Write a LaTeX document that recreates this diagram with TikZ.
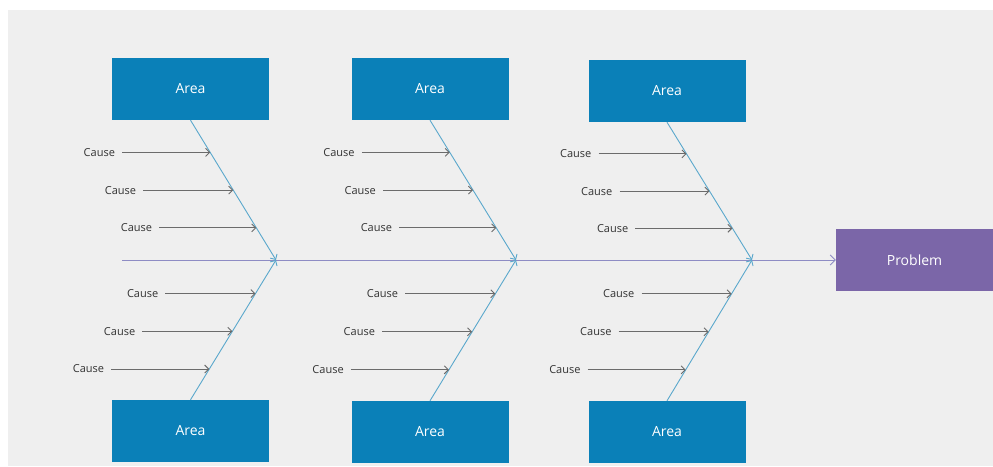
\documentclass[tikz,border=0pt]{standalone}
\usepackage{fontspec}
\setmainfont{Open Sans}
\usetikzlibrary{arrows.meta,calc}
\definecolor{bggray}{HTML}{EFEFEF}
\definecolor{areablue}{HTML}{0A80B8}
\definecolor{probpurple}{HTML}{7B66A8}
\definecolor{bonecol}{HTML}{5AA8CC}
\definecolor{spinecol}{HTML}{8E8CC4}
\definecolor{causecol}{HTML}{6B6B6B}
\tikzset{
	area/.style={fill=areablue, text=white, minimum width=157, minimum height=62,
			inner sep=0pt, font=\fontsize{14}{16}\selectfont},
	problem/.style={area, fill=probpurple},
	cause/.style={text=black!80, inner xsep=7pt, inner ysep=2pt, anchor=east,
			font=\fontsize{11}{13}\selectfont},
	bone/.style={draw=bonecol, line width=0.9pt, -{Straight Barb[length=4pt,width=8pt]}},
	spine/.style={draw=spinecol, line width=0.9pt, -{Straight Barb[length=5pt,width=10pt]}},
	causearrow/.style={draw=causecol, line width=0.9pt, -{Straight Barb[length=4pt,width=8pt]}}
}

\begin{document}
\begin{tikzpicture}[x=1pt,y=-1pt]
	\fill[bggray] (8,10) rectangle (993,466);
	\useasboundingbox (0,0) rectangle (993,466);

	% area boxes
	\node[area] (top1) at (190.5,89) {Area};
	\node[area] (top2) at (430,89) {Area};
	\node[area] (top3) at (667,91) {Area};
	\node[area] (bot1) at (190.5,431) {Area};
	\node[area] (bot2) at (430,432) {Area};
	\node[area] (bot3) at (667,432) {Area};
	\node[problem] (prob) at (914.5,260) {Problem};

	% spine and bones
	\coordinate (tail) at (122,260);
	\coordinate (j1) at (276,260);
	\coordinate (j2) at (516,260);
	\coordinate (j3) at (752,260);
	\draw[spine] (tail) -- (prob);
	\foreach \b/\j in {top1/j1, top2/j2, top3/j3} {
		\draw[bone] (\b.south) -- (\j);
	}
	\foreach \b/\j in {bot1/j1, bot2/j2, bot3/j3} {
		\draw[bone] (\b.north) -- (\j);
	}

	% causes
	\foreach \b/\j in {top1/j1, top2/j2, top3/j3} {
		\foreach \t/\len [count=\i] in {0.23/88, 0.5/90, 0.77/97} {
			\coordinate (\b-c\i) at ($(\b.south)!\t!(\j)$);
			\node[cause] (\b-l\i) at ($(\b-c\i)+(-\len,0)$) {Cause};
			\draw[causearrow] (\b-l\i.east) -- (\b-c\i);
		}
	}
	\foreach \b/\j in {bot1/j1, bot2/j2, bot3/j3} {
		\foreach \t/\len [count=\i] in {0.22/98, 0.49/90, 0.76/90} {
			\coordinate (\b-c\i) at ($(\b.north)!\t!(\j)$);
			\node[cause] (\b-l\i) at ($(\b-c\i)+(-\len,0)$) {Cause};
			\draw[causearrow] (\b-l\i.east) -- (\b-c\i);
		}
	}
\end{tikzpicture}
\end{document}
